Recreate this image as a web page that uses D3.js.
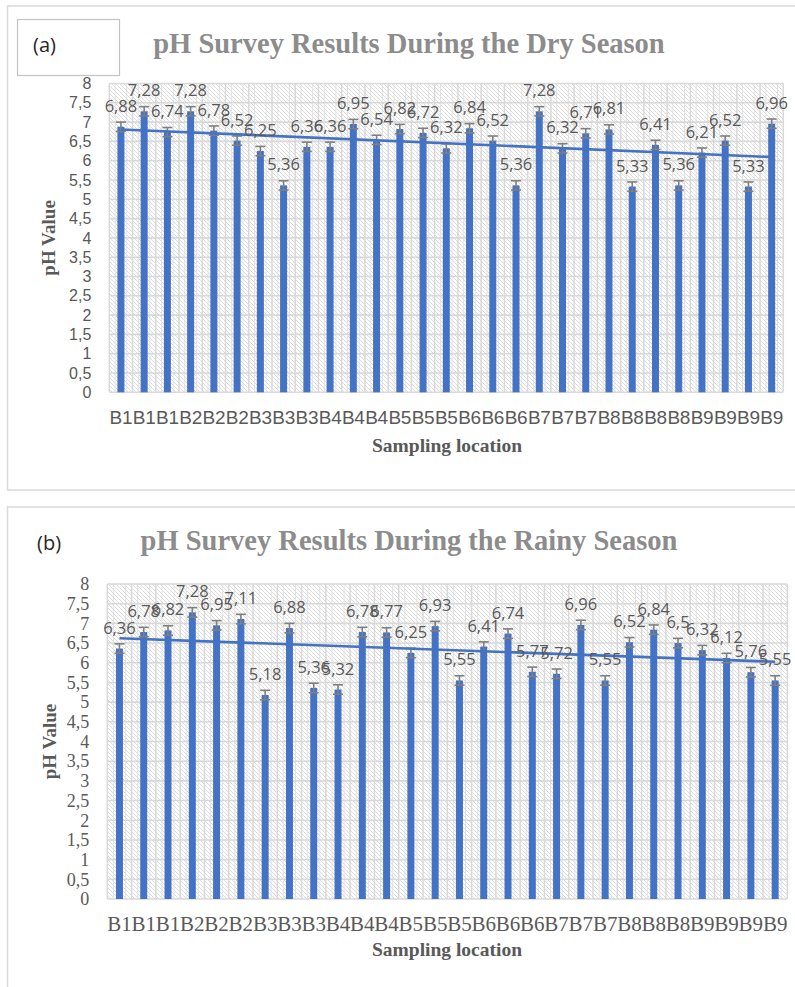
<!DOCTYPE html>
<html>
<head>
<meta charset="utf-8">
<title>pH Survey Results</title>
<script src="https://d3js.org/d3.v7.min.js"></script>
<style>
  body { margin: 0; background: #fff; }
  svg { display: block; }
</style>
</head>
<body>
<svg id="main-svg" width="795" height="987"></svg>
<script>
// ---- data ----
const dryLocations = ["B1","B1","B1","B2","B2","B2","B3","B3","B3","B4","B4","B4",
  "B5","B5","B5","B6","B6","B6","B7","B7","B7","B8","B8","B8","B8","B9","B9","B9","B9"];
const dryPH = [6.88,7.28,6.74,7.28,6.78,6.52,6.25,5.36,6.36,6.36,6.95,6.54,
  6.82,6.72,6.32,6.84,6.52,5.36,7.28,6.32,6.71,6.81,5.33,6.41,5.36,6.21,6.52,5.33,6.96];

const rainyLocations = ["B1","B1","B1","B2","B2","B2","B3","B3","B3","B4","B4","B4",
  "B5","B5","B5","B6","B6","B6","B7","B7","B7","B8","B8","B8","B9","B9","B9","B9"];
const rainyPH = [6.36,6.78,6.82,7.28,6.95,7.11,5.18,6.88,5.36,5.32,6.78,6.77,
  6.25,6.93,5.55,6.41,6.74,5.77,5.72,6.96,5.55,6.52,6.84,6.5,6.32,6.12,5.76,5.55];

const yTickValues = [0,0.5,1,1.5,2,2.5,3,3.5,4,4.5,5,5.5,6,6.5,7,7.5,8];
const errorSize = 0.12;

const svg = d3.select("#main-svg");
const fmt = v => String(v).replace(".", ",");

// hatch fill used by the plot area
const defs = svg.append("defs");
defs.append("pattern")
    .attr("id", "hatch")
    .attr("patternUnits", "userSpaceOnUse")
    .attr("width", 4).attr("height", 4)
    .append("path")
    .attr("d", "M-1,-1 L5,5 M3,-1 L5,1 M-1,3 L1,5")
    .attr("stroke", "#dcdcdc")
    .attr("stroke-width", 1);

function drawPanel(p) {
    const g = svg.append("g");

    // outer frame
    g.append("rect")
        .attr("x", p.frame[0]).attr("y", p.frame[1])
        .attr("width", p.frame[2]).attr("height", p.frame[3])
        .attr("fill", "none").attr("stroke", "#d9d9d9").attr("stroke-width", 1.5);

    // panel tag
    if (p.tagBox) {
        g.append("rect")
            .attr("x", 17.5).attr("y", p.tagBox)
            .attr("width", 102).attr("height", 56)
            .attr("fill", "#fff").attr("stroke", "#c4c4c4").attr("stroke-width", 1.2);
    }
    g.append("text")
        .attr("x", p.tagX).attr("y", p.tagY)
        .text(p.tag)
        .style("font-family", "'Open Sans', sans-serif")
        .style("font-size", "20px")
        .attr("fill", "#262626");

    // title
    g.append("text")
        .attr("x", 409).attr("y", p.titleY)
        .attr("text-anchor", "middle")
        .text(p.title)
        .style("font-family", "'Liberation Serif', 'Times New Roman', serif")
        .style("font-weight", "bold")
        .style("font-size", "28.5px")
        .attr("fill", "#8c8c8c");

    const [x0, y0, x1, y1] = p.plot;
    const n = p.values.length;

    const x = d3.scaleBand().domain(d3.range(n)).range([x0, x1]);
    const y = d3.scaleLinear().domain([0, 8]).range([y1, y0]);
    const bw = x.bandwidth();

    // plot area background
    g.append("rect")
        .attr("x", x0).attr("y", y0).attr("width", x1 - x0).attr("height", y1 - y0)
        .attr("fill", "#fff");
    g.append("rect")
        .attr("x", x0).attr("y", y0).attr("width", x1 - x0).attr("height", y1 - y0)
        .attr("fill", "url(#hatch)");

    // minor vertical grid (quarters of each band)
    const minorX = [];
    d3.range(n).forEach(i => { minorX.push(x(i) + bw * 0.25, x(i) + bw * 0.75); });
    g.selectAll(".vminor").data(minorX).enter().append("line")
        .attr("x1", d => d).attr("x2", d => d).attr("y1", y0).attr("y2", y1)
        .attr("stroke", "#e2e2e2").attr("stroke-width", 1);

    // major vertical grid (band edges)
    g.selectAll(".vmajor").data(d3.range(n + 1)).enter().append("line")
        .attr("x1", i => x0 + i * bw).attr("x2", i => x0 + i * bw)
        .attr("y1", y0).attr("y2", y1)
        .attr("stroke", "#d9d9d9").attr("stroke-width", 1.5);

    // horizontal grid
    g.selectAll(".hgrid").data(yTickValues).enter().append("line")
        .attr("x1", x0).attr("x2", x1)
        .attr("y1", d => y(d)).attr("y2", d => y(d))
        .attr("stroke", "#d9d9d9").attr("stroke-width", 1.6);

    // y tick labels
    g.selectAll(".ytick").data(yTickValues).enter().append("text")
        .attr("x", x0 - 18).attr("y", d => y(d)).attr("dy", "0.35em")
        .attr("text-anchor", "end")
        .text(fmt)
        .style("font-family", p.tickFont)
        .style("font-size", p.yTickSize)
        .attr("fill", "#595959");

    // x tick labels
    g.selectAll(".xtick").data(p.labels).enter().append("text")
        .attr("x", (d, i) => x(i) + bw / 2).attr("y", y1 + 32)
        .attr("text-anchor", "middle")
        .text(d => d)
        .style("font-family", p.tickFont)
        .style("font-size", p.xTickSize)
        .style("letter-spacing", p.xSpacing)
        .attr("fill", "#595959");

    // bars
    const barW = 7;
    g.selectAll(".bar").data(p.values).enter().append("rect")
        .attr("x", (d, i) => x(i) + bw / 2 - barW / 2)
        .attr("y", d => y(d))
        .attr("width", barW)
        .attr("height", d => y1 - y(d))
        .attr("fill", "#4472c4");

    // error bars
    const eb = g.selectAll(".err").data(p.values).enter().append("g")
        .attr("stroke", "#7f7f7f").attr("stroke-width", 1.6);
    eb.append("line")
        .attr("x1", (d, i) => x(i) + bw / 2).attr("x2", (d, i) => x(i) + bw / 2)
        .attr("y1", d => y(d + errorSize)).attr("y2", d => y(d - errorSize));
    eb.append("line")
        .attr("x1", (d, i) => x(i) + bw / 2 - 5).attr("x2", (d, i) => x(i) + bw / 2 + 5)
        .attr("y1", d => y(d + errorSize)).attr("y2", d => y(d + errorSize));
    eb.append("line")
        .attr("x1", (d, i) => x(i) + bw / 2 - 5).attr("x2", (d, i) => x(i) + bw / 2 + 5)
        .attr("y1", d => y(d - errorSize)).attr("y2", d => y(d - errorSize));

    // linear trend line (least squares over bar index)
    const idx = d3.range(1, n + 1);
    const mx = d3.mean(idx), my = d3.mean(p.values);
    const slope = d3.sum(idx, (k, j) => (k - mx) * (p.values[j] - my)) /
                  d3.sum(idx, k => (k - mx) * (k - mx));
    const icpt = my - slope * mx;
    const trend = [1, n].map(k => [x(k - 1) + bw / 2, y(icpt + slope * k)]);
    g.append("path")
        .attr("d", d3.line()(trend))
        .attr("fill", "none")
        .attr("stroke", "#4472c4")
        .attr("stroke-width", 2.6);

    // data labels
    g.selectAll(".val").data(p.values).enter().append("text")
        .attr("x", (d, i) => x(i) + bw / 2)
        .attr("y", d => y(d) - 15)
        .attr("text-anchor", "middle")
        .text(fmt)
        .style("font-family", "'Open Sans', sans-serif")
        .style("font-size", "16.5px")
        .attr("fill", "#595959");

    // axis titles
    g.append("text")
        .attr("transform", `translate(${p.yTitleX},${(y0 + y1) / 2}) rotate(-90)`)
        .attr("text-anchor", "middle")
        .text("pH Value")
        .style("font-family", "'Liberation Serif', 'Times New Roman', serif")
        .style("font-weight", "bold")
        .style("font-size", "19px")
        .attr("fill", "#595959");

    g.append("text")
        .attr("x", 447).attr("y", p.xTitleY)
        .attr("text-anchor", "middle")
        .text("Sampling location")
        .style("font-family", "'Liberation Serif', 'Times New Roman', serif")
        .style("font-weight", "bold")
        .style("font-size", "19.5px")
        .attr("fill", "#595959");
}

drawPanel({
    frame: [7.5, 6, 800, 484],
    tag: "(a)", tagBox: 19.5, tagX: 33, tagY: 52,
    title: "pH Survey Results During the Dry Season", titleY: 52.5,
    plot: [109.3, 83.5, 783.3, 392.3],
    values: dryPH, labels: dryLocations,
    tickFont: "'Liberation Sans', Arial, sans-serif",
    yTickSize: "16px", xTickSize: "19px", xSpacing: "-0.3px",
    yTitleX: 55, xTitleY: 452
});

drawPanel({
    frame: [7.5, 507, 800, 500],
    tag: "(b)", tagBox: null, tagX: 37, tagY: 550,
    title: "pH Survey Results During the Rainy Season", titleY: 550,
    plot: [107.3, 584, 787.3, 899],
    values: rainyPH, labels: rainyLocations,
    tickFont: "'Liberation Serif', 'Times New Roman', serif",
    yTickSize: "18px", xTickSize: "21px", xSpacing: "0px",
    yTitleX: 56, xTitleY: 956
});
</script>
</body>
</html>
